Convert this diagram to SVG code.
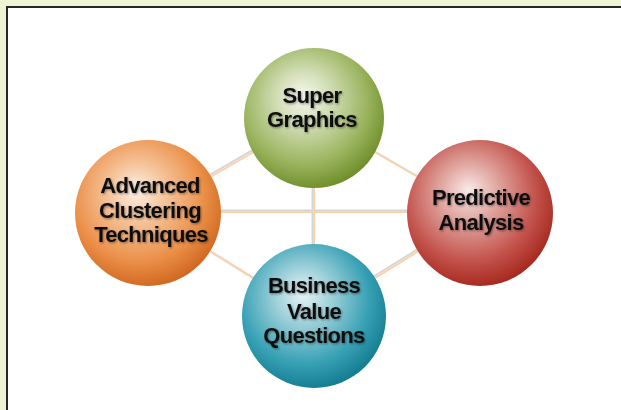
<svg xmlns="http://www.w3.org/2000/svg" width="621" height="410" viewBox="0 0 621 410">
<defs>
<style>
.lbl{font-family:"Liberation Sans",Arial,sans-serif;font-weight:bold;font-size:22px;fill:#111;text-anchor:middle;letter-spacing:-0.7px;filter:url(#ts)}
.sh{stroke:#d6d6d6;stroke-width:2}
.ln{stroke:#fcd2ad;stroke-width:2}
</style>
<filter id="ts" x="-20%" y="-40%" width="140%" height="180%">
<feDropShadow dx="1" dy="1.2" stdDeviation="1.1" flood-color="#000" flood-opacity="0.4"/>
</filter>
<radialGradient id="gG" cx="0.44" cy="0.4" r="0.62" fx="0.42" fy="0.34">
<stop offset="0" stop-color="#f6f8ef"/>
<stop offset="0.3" stop-color="#d3dfb8"/>
<stop offset="0.72" stop-color="#9ab45e"/>
<stop offset="1" stop-color="#6e8d28"/>
</radialGradient>
<radialGradient id="gO" cx="0.44" cy="0.4" r="0.62" fx="0.42" fy="0.34">
<stop offset="0" stop-color="#fdf1e6"/>
<stop offset="0.3" stop-color="#f6c69e"/>
<stop offset="0.72" stop-color="#eb9049"/>
<stop offset="1" stop-color="#d0661e"/>
</radialGradient>
<radialGradient id="gR" cx="0.44" cy="0.4" r="0.62" fx="0.42" fy="0.34">
<stop offset="0" stop-color="#f8eae8"/>
<stop offset="0.3" stop-color="#e2aaa4"/>
<stop offset="0.72" stop-color="#c3534c"/>
<stop offset="1" stop-color="#a5271d"/>
</radialGradient>
<radialGradient id="gB" cx="0.44" cy="0.4" r="0.62" fx="0.42" fy="0.34">
<stop offset="0" stop-color="#e8f5f7"/>
<stop offset="0.3" stop-color="#a2d2db"/>
<stop offset="0.72" stop-color="#38a1b5"/>
<stop offset="1" stop-color="#127b8f"/>
</radialGradient>
</defs>
<rect x="0" y="0" width="621" height="410" fill="#eef3d5"/>
<rect x="7" y="7" width="700" height="500" fill="#fff" stroke="#262626" stroke-width="2"/>
<g id="connectors">
<g class="sh" transform="translate(-1.5,-1.5)">
<line x1="314" y1="117" x2="148" y2="213"/>
<line x1="314" y1="117" x2="480" y2="213"/>
<line x1="148" y1="213" x2="314" y2="316"/>
<line x1="480" y1="213" x2="314" y2="316"/>
<line x1="148" y1="212" x2="480" y2="212"/>
<line x1="314" y1="117" x2="314" y2="316"/>
</g>
<g class="ln">
<line x1="314" y1="117" x2="148" y2="213"/>
<line x1="314" y1="117" x2="480" y2="213"/>
<line x1="148" y1="213" x2="314" y2="316"/>
<line x1="480" y1="213" x2="314" y2="316"/>
<line x1="148" y1="212" x2="480" y2="212"/>
<line x1="314" y1="117" x2="314" y2="316"/>
</g>
</g>
<g id="super-graphics">
<circle cx="314" cy="118" r="70" fill="url(#gG)"/>
<text class="lbl" x="312" y="103">Super</text>
<text class="lbl" x="312" y="127">Graphics</text>
</g>
<g id="advanced-clustering">
<circle cx="148" cy="213" r="73" fill="url(#gO)"/>
<text class="lbl" x="150" y="193">Advanced</text>
<text class="lbl" x="150" y="218">Clustering</text>
<text class="lbl" x="151" y="242">Techniques</text>
</g>
<g id="predictive-analysis">
<circle cx="480" cy="213" r="73" fill="url(#gR)"/>
<text class="lbl" x="481" y="205">Predictive</text>
<text class="lbl" x="481" y="230">Analysis</text>
</g>
<g id="business-value">
<circle cx="314" cy="316" r="72" fill="url(#gB)"/>
<text class="lbl" x="314" y="293">Business</text>
<text class="lbl" x="314" y="319">Value</text>
<text class="lbl" x="314" y="343">Questions</text>
</g>
</svg>
